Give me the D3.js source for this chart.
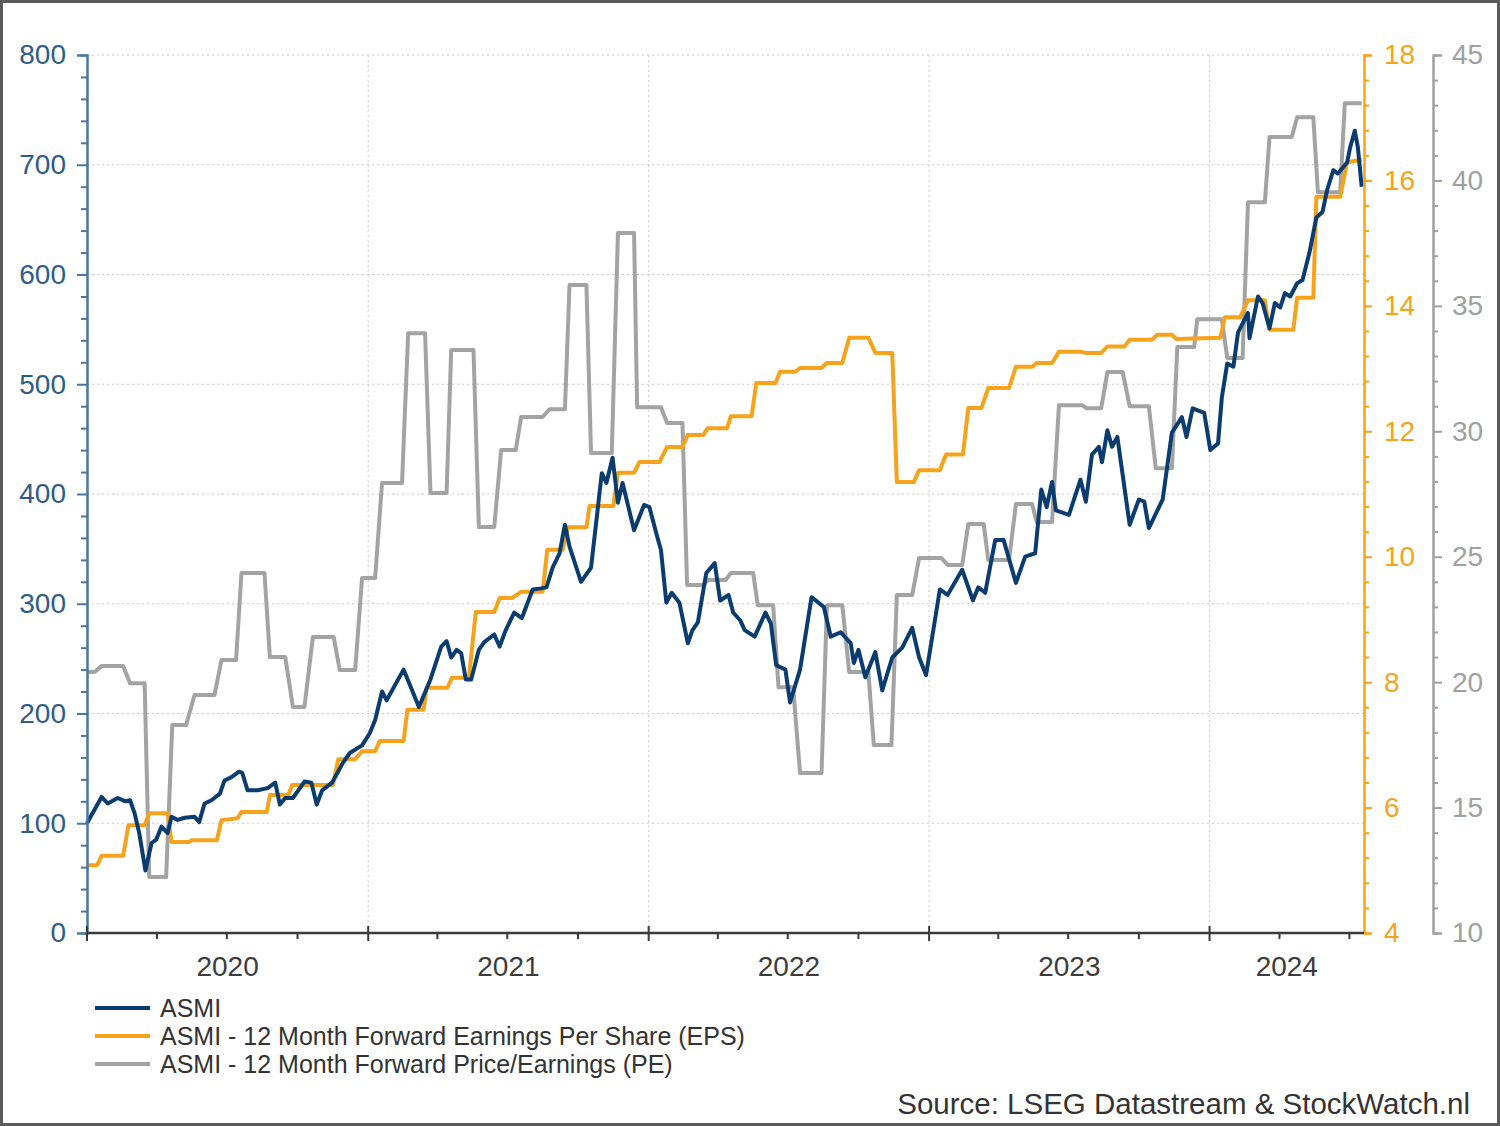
<!DOCTYPE html>
<html>
<head>
<meta charset="utf-8">
<script src="https://cdn.jsdelivr.net/npm/d3@7"></script>
<style>
  html, body { margin: 0; padding: 0; background: #fff; }
  svg { display: block; font-family: "Liberation Sans", Arial, Helvetica, sans-serif; }
</style>
</head>
<body>
<svg id="chart" width="1500" height="1126"></svg>
<script>
// ---------------- DATA ----------------
const seriesNames = ["ASMI", "ASMI - 12 Month Forward Earnings Per Share (EPS)", "ASMI - 12 Month Forward Price/Earnings (PE)"];
const yearLabels = ["2020", "2021", "2022", "2023", "2024"];
const leftTicks = [0, 100, 200, 300, 400, 500, 600, 700, 800];
const epsTicks = [4, 6, 8, 10, 12, 14, 16, 18];
const peTicks = [10, 15, 20, 25, 30, 35, 40, 45];
const sourceText = "Source: LSEG Datastream & StockWatch.nl";

const asmi = [
["2020-01-01",100],["2020-01-20",124],["2020-01-28",118],["2020-02-10",123],["2020-02-20",120],["2020-02-26",121],["2020-03-03",109],["2020-03-09",91],["2020-03-17",57],["2020-03-25",82],["2020-03-31",85],["2020-04-07",97],["2020-04-15",91],["2020-04-20",106],["2020-04-28",103],["2020-05-07",105],["2020-05-20",106],["2020-05-26",101],["2020-06-02",118],["2020-06-11",121],["2020-06-22",127],["2020-06-28",139],["2020-07-07",142],["2020-07-17",147],["2020-07-21",146],["2020-07-28",130],["2020-08-10",130],["2020-08-23",132],["2020-09-02",137],["2020-09-08",117],["2020-09-15",123],["2020-09-25",123],["2020-10-10",138],["2020-10-19",137],["2020-10-26",117],["2020-11-02",130],["2020-11-15",137],["2020-11-22",146],["2020-11-29",155],["2020-12-08",164],["2020-12-24",171],
["2021-01-03",182],["2021-01-10",194],["2021-01-19",220],["2021-01-25",212],["2021-02-16",240],["2021-03-08",206],["2021-03-23",231],["2021-04-06",261],["2021-04-13",266],["2021-04-19",251],["2021-04-26",258],["2021-05-02",255],["2021-05-08",231],["2021-05-15",231],["2021-05-25",258],["2021-06-01",265],["2021-06-14",272],["2021-06-21",261],["2021-06-29",276],["2021-07-10",292],["2021-07-20",287],["2021-08-03",313],["2021-08-14",314],["2021-08-21",315],["2021-08-29",333],["2021-09-07",346],["2021-09-14",372],["2021-09-20",352],["2021-10-05",320],["2021-10-18",333],["2021-11-01",419],["2021-11-07",410],["2021-11-15",433],["2021-11-22",392],["2021-11-28",410],["2021-12-13",367],["2021-12-26",390],
["2022-01-02",388],["2022-01-11",364],["2022-01-17",349],["2022-01-24",301],["2022-01-31",310],["2022-02-10",301],["2022-02-21",264],["2022-02-27",276],["2022-03-06",283],["2022-03-17",328],["2022-03-28",337],["2022-04-04",303],["2022-04-15",308],["2022-04-21",292],["2022-04-30",285],["2022-05-06",276],["2022-05-19",270],["2022-06-02",292],["2022-06-09",282],["2022-06-16",244],["2022-06-28",240],["2022-07-04",210],["2022-07-17",240],["2022-08-01",306],["2022-08-17",297],["2022-08-26",270],["2022-09-08",274],["2022-09-21",264],["2022-09-25",246],["2022-10-01",258],["2022-10-10",233],["2022-10-23",256],["2022-11-01",221],["2022-11-14",251],["2022-11-27",260],["2022-12-10",278],["2022-12-19",251],["2022-12-28",235],
["2023-01-15",313],["2023-01-25",308],["2023-02-13",331],["2023-02-27",303],["2023-03-06",315],["2023-03-15",310],["2023-03-28",358],["2023-04-08",358],["2023-04-24",319],["2023-05-06",343],["2023-05-19",346],["2023-05-27",404],["2023-06-03",388],["2023-06-10",411],["2023-06-15",385],["2023-07-02",381],["2023-07-17",413],["2023-07-24",393],["2023-08-01",436],["2023-08-10",443],["2023-08-14",429],["2023-08-21",458],["2023-08-27",443],["2023-09-03",452],["2023-09-19",372],["2023-10-01",395],["2023-10-08",393],["2023-10-14",369],["2023-11-01",395],["2023-11-13",456],["2023-11-26",470],["2023-12-02",452],["2023-12-10",478],["2023-12-25",474],
["2024-01-02",440],["2024-01-12",446],["2024-01-17",488],["2024-01-24",519],["2024-02-01",516],["2024-02-07",547],["2024-02-20",565],["2024-02-22",542],["2024-03-04",580],["2024-03-10",574],["2024-03-19",551],["2024-03-26",574],["2024-04-02",570],["2024-04-08",583],["2024-04-15",580],["2024-04-24",592],["2024-05-01",595],["2024-05-10",620],["2024-05-19",652],["2024-05-27",657],["2024-06-02",677],["2024-06-10",695],["2024-06-16",692],["2024-06-28",702],["2024-07-02",716],["2024-07-08",731],["2024-07-12",716],["2024-07-17",680]
];

const eps = [
["2020-01-01",5.08],["2020-01-14",5.08],["2020-01-20",5.23],["2020-02-17",5.23],["2020-02-24",5.72],["2020-03-16",5.72],["2020-03-22",5.91],["2020-04-15",5.91],["2020-04-20",5.45],["2020-05-13",5.45],["2020-05-16",5.48],["2020-06-18",5.48],["2020-06-24",5.80],["2020-07-15",5.83],["2020-07-20",5.93],["2020-08-22",5.93],["2020-08-26",6.20],["2020-09-19",6.20],["2020-09-24",6.36],["2020-11-16",6.36],["2020-11-23",6.77],["2020-12-15",6.77],["2020-12-24",6.90],
["2021-01-10",6.90],["2021-01-16",7.06],["2021-02-16",7.06],["2021-02-21",7.56],["2021-03-14",7.56],["2021-03-18",7.91],["2021-04-14",7.91],["2021-04-20",8.07],["2021-05-12",8.07],["2021-05-21",9.12],["2021-06-14",9.12],["2021-06-21",9.34],["2021-07-07",9.34],["2021-07-19",9.44],["2021-08-16",9.44],["2021-08-22",10.11],["2021-09-11",10.11],["2021-09-18",10.47],["2021-10-12",10.47],["2021-10-16",10.81],["2021-11-16",10.81],["2021-11-22",11.34],["2021-12-13",11.34],["2021-12-20",11.51],
["2022-01-15",11.51],["2022-01-25",11.75],["2022-02-14",11.75],["2022-02-21",11.94],["2022-03-13",11.94],["2022-03-19",12.05],["2022-04-13",12.05],["2022-04-18",12.24],["2022-05-15",12.24],["2022-05-21",12.77],["2022-06-15",12.77],["2022-06-21",12.95],["2022-07-11",12.95],["2022-07-17",13.01],["2022-08-14",13.01],["2022-08-21",13.09],["2022-09-10",13.09],["2022-09-19",13.49],["2022-10-14",13.49],["2022-10-23",13.25],["2022-11-14",13.25],["2022-11-20",11.19],["2022-12-12",11.19],["2022-12-19",11.38],
["2023-01-15",11.38],["2023-01-23",11.63],["2023-02-14",11.63],["2023-02-21",12.37],["2023-03-10",12.37],["2023-03-19",12.69],["2023-04-15",12.69],["2023-04-24",13.03],["2023-05-15",13.03],["2023-05-21",13.09],["2023-06-10",13.09],["2023-06-19",13.27],["2023-07-17",13.27],["2023-07-24",13.25],["2023-08-13",13.25],["2023-08-21",13.35],["2023-09-12",13.35],["2023-09-19",13.46],["2023-10-18",13.46],["2023-10-25",13.54],["2023-11-13",13.54],["2023-11-19",13.47],
["2024-01-15",13.49],["2024-01-21",13.82],["2024-02-10",13.82],["2024-02-20",14.09],["2024-03-13",14.09],["2024-03-19",13.62],["2024-04-19",13.62],["2024-04-24",14.13],["2024-05-15",14.13],["2024-05-19",15.74],["2024-06-19",15.74],["2024-06-28",16.29],["2024-07-17",16.33]
];

const pe = [
["2020-01-01",20.40],["2020-01-11",20.40],["2020-01-20",20.64],["2020-02-17",20.64],["2020-02-26",19.96],["2020-03-16",19.96],["2020-03-22",12.23],["2020-04-13",12.23],["2020-04-21",18.29],["2020-05-09",18.29],["2020-05-20",19.49],["2020-06-15",19.49],["2020-06-24",20.88],["2020-07-13",20.88],["2020-07-20",24.35],["2020-08-19",24.35],["2020-08-26",21.00],["2020-09-15",21.00],["2020-09-25",19.01],["2020-10-10",19.01],["2020-10-21",21.80],["2020-11-17",21.80],["2020-11-25",20.48],["2020-12-15",20.48],["2020-12-24",24.15],
["2021-01-10",24.15],["2021-01-19",27.94],["2021-02-14",27.94],["2021-02-22",33.91],["2021-03-16",33.91],["2021-03-23",27.54],["2021-04-13",27.54],["2021-04-19",33.24],["2021-05-18",33.24],["2021-05-25",26.18],["2021-06-14",26.18],["2021-06-23",29.25],["2021-07-12",29.25],["2021-07-19",30.57],["2021-08-16",30.57],["2021-08-25",30.88],["2021-09-14",30.88],["2021-09-20",35.83],["2021-10-12",35.83],["2021-10-18",29.13],["2021-11-14",29.13],["2021-11-22",37.90],["2021-12-13",37.90],["2021-12-17",30.96],
["2022-01-17",30.96],["2022-01-25",30.33],["2022-02-14",30.33],["2022-02-20",23.87],["2022-03-13",23.87],["2022-03-19",24.07],["2022-04-11",24.07],["2022-04-18",24.35],["2022-05-17",24.35],["2022-05-23",23.07],["2022-06-12",23.07],["2022-06-19",19.80],["2022-07-08",19.80],["2022-07-17",16.38],["2022-08-14",16.38],["2022-08-21",23.07],["2022-09-10",23.07],["2022-09-19",20.40],["2022-10-14",20.40],["2022-10-21",17.49],["2022-11-13",17.49],["2022-11-20",23.47],["2022-12-10",23.47],["2022-12-19",24.95],
["2023-01-17",24.95],["2023-01-25",24.67],["2023-02-13",24.67],["2023-02-21",26.30],["2023-03-13",26.30],["2023-03-19",24.87],["2023-04-15",24.87],["2023-04-24",27.10],["2023-05-15",27.10],["2023-05-21",26.38],["2023-06-10",26.38],["2023-06-19",31.04],["2023-07-19",31.04],["2023-07-25",30.92],["2023-08-13",30.92],["2023-08-21",32.36],["2023-09-10",32.36],["2023-09-19",31.00],["2023-10-14",31.00],["2023-10-23",28.53],["2023-11-13",28.53],["2023-11-20",33.36],["2023-12-12",33.36],["2023-12-16",34.47],
["2024-01-17",34.47],["2024-01-24",32.92],["2024-02-13",32.92],["2024-02-20",39.13],["2024-03-13",39.13],["2024-03-19",41.73],["2024-04-17",41.73],["2024-04-24",42.52],["2024-05-15",42.52],["2024-05-21",39.53],["2024-06-19",39.53],["2024-06-25",43.08],["2024-07-17",43.08]
];

// ---------------- SETUP ----------------
const parse = d3.timeParse("%Y-%m-%d");
const W = 1500, H = 1126;
const L = 87, R = 1364, T = 55, B = 933;
const peAxisX = 1433;

const C_ASMI = "#0b3c70", C_EPS = "#f7a21b", C_PE = "#a3a3a3";
const C_LEFT_TXT = "#2e5c8a", C_LEFT_AX = "#4677a8";
const C_EPS_TXT = "#f5a31a", C_PE_TXT = "#a0a0a0";

const svg = d3.select("#chart");

const x = d3.scaleTime().domain([parse("2020-01-01"), parse("2024-07-20")]).range([L, R]);
const yL = d3.scaleLinear().domain([0, 800]).range([B, T]);
const yE = d3.scaleLinear().domain([4, 18]).range([B, T]);
const yP = d3.scaleLinear().domain([10, 45]).range([B, T]);

// frame
svg.append("rect").attr("x", 1.5).attr("y", 1.5).attr("width", W - 3).attr("height", H - 3)
  .attr("fill", "#fff").attr("stroke", "#5a5a5a").attr("stroke-width", 3);

// grid
const grid = svg.append("g");
grid.selectAll("line.h").data(leftTicks.filter(v => v > 0)).join("line")
  .attr("x1", L).attr("x2", R).attr("y1", d => yL(d)).attr("y2", d => yL(d))
  .attr("stroke", "#c9c9c9").attr("stroke-width", 1).attr("stroke-dasharray", "2,3");
const yearStarts = yearLabels.map(y => parse(y + "-01-01"));
grid.selectAll("line.v").data(yearStarts.slice(1)).join("line")
  .attr("x1", d => x(d)).attr("x2", d => x(d)).attr("y1", T).attr("y2", B)
  .attr("stroke", "#c9c9c9").attr("stroke-width", 1).attr("stroke-dasharray", "2,3");

// lines
const mk = (ys) => d3.line().x(d => x(parse(d[0]))).y(d => ys(d[1])).curve(d3.curveLinear);
const lines = svg.append("g").attr("fill", "none").attr("stroke-width", 4)
  .attr("stroke-linejoin", "round").attr("stroke-linecap", "butt");
lines.append("path").attr("d", mk(yP)(pe)).attr("stroke", C_PE);
lines.append("path").attr("d", mk(yE)(eps)).attr("stroke", C_EPS);
lines.append("path").attr("d", mk(yL)(asmi)).attr("stroke", C_ASMI);

// left axis
const fontSize = 28;
const gL = svg.append("g").attr("transform", `translate(${L},0)`);
gL.call(d3.axisLeft(yL).tickValues(d3.range(0, 801, 20).filter(v => v % 100 !== 0)).tickSize(6).tickFormat(""));
gL.call(g => g.selectAll(".tick line").attr("stroke", C_LEFT_AX).attr("stroke-width", 2));
const gL2 = svg.append("g").attr("transform", `translate(${L},0)`);
gL2.call(d3.axisLeft(yL).tickValues(leftTicks).tickSize(10).tickPadding(11));
[gL, gL2].forEach(g => g.select(".domain").attr("stroke", C_LEFT_AX).attr("stroke-width", 2));
gL2.selectAll(".tick line").attr("stroke", C_LEFT_AX).attr("stroke-width", 2);
gL2.selectAll(".tick text").attr("fill", C_LEFT_TXT).style("font-size", fontSize + "px")
  .style("font-family", '"Liberation Sans", Arial, sans-serif');

// EPS axis
const gE = svg.append("g").attr("transform", `translate(${R},0)`);
gE.call(d3.axisRight(yE).tickValues(d3.range(0, 36).map(i => 4 + i * 0.4).filter(v => Math.abs(v / 2 - Math.round(v / 2)) > 0.01 && v <= 18.001)).tickSize(5).tickFormat(""));
gE.selectAll(".tick line").attr("stroke", C_EPS).attr("stroke-width", 2);
const gE2 = svg.append("g").attr("transform", `translate(${R},0)`);
gE2.call(d3.axisRight(yE).tickValues(epsTicks).tickSize(8).tickPadding(12));
[gE, gE2].forEach(g => g.select(".domain").attr("stroke", C_EPS).attr("stroke-width", 2));
gE2.selectAll(".tick line").attr("stroke", C_EPS).attr("stroke-width", 2);
gE2.selectAll(".tick text").attr("fill", C_EPS_TXT).style("font-size", fontSize + "px")
  .style("font-family", '"Liberation Sans", Arial, sans-serif');

// PE axis
const gP = svg.append("g").attr("transform", `translate(${peAxisX},0)`);
gP.call(d3.axisRight(yP).tickValues(d3.range(10, 46, 1).filter(v => v % 5 !== 0)).tickSize(5).tickFormat(""));
gP.selectAll(".tick line").attr("stroke", C_PE_TXT).attr("stroke-width", 2);
const gP2 = svg.append("g").attr("transform", `translate(${peAxisX},0)`);
gP2.call(d3.axisRight(yP).tickValues(peTicks).tickSize(9).tickPadding(10));
[gP, gP2].forEach(g => g.select(".domain").attr("stroke", C_PE_TXT).attr("stroke-width", 2));
gP2.selectAll(".tick line").attr("stroke", C_PE_TXT).attr("stroke-width", 2);
gP2.selectAll(".tick text").attr("fill", C_PE_TXT).style("font-size", fontSize + "px")
  .style("font-family", '"Liberation Sans", Arial, sans-serif');

// x axis
const [d0, d1] = x.domain();
const quarters = d3.timeMonth.every(3).range(d0, d1);
const gX = svg.append("g");
gX.selectAll("line.q").data(quarters).join("line")
  .attr("x1", d => x(d)).attr("x2", d => x(d))
  .attr("y1", d => d.getMonth() === 0 ? B - 7 : B)
  .attr("y2", d => d.getMonth() === 0 ? B + 8 : B + 6)
  .attr("stroke", "#3a3a3a").attr("stroke-width", 2);
gX.append("line").attr("x1", L).attr("x2", R).attr("y1", B).attr("y2", B)
  .attr("stroke", "#3a3a3a").attr("stroke-width", 2.5);
gX.selectAll("text").data(yearLabels).join("text")
  .attr("x", (d, i) => {
    const s = yearStarts[i];
    const e = new Date(Math.min(+parse((+d + 1) + "-01-01"), +d1));
    return (x(s) + x(e)) / 2;
  })
  .attr("y", 976).attr("text-anchor", "middle")
  .attr("fill", "#3c3c3c").style("font-size", fontSize + "px").text(d => d);

// legend
const legend = svg.append("g");
const legColors = [C_ASMI, C_EPS, C_PE];
seriesNames.forEach((name, i) => {
  const yy = 1008 + i * 28;
  legend.append("line").attr("x1", 95).attr("x2", 150).attr("y1", yy).attr("y2", yy)
    .attr("stroke", legColors[i]).attr("stroke-width", 4);
  legend.append("text").attr("x", 160).attr("y", yy + 9).attr("fill", "#333")
    .style("font-size", "25px").text(name);
});

// source
svg.append("text").attr("x", 1470).attr("y", 1114).attr("text-anchor", "end")
  .attr("fill", "#333").style("font-size", "29.5px").text(sourceText);
</script>
</body>
</html>
